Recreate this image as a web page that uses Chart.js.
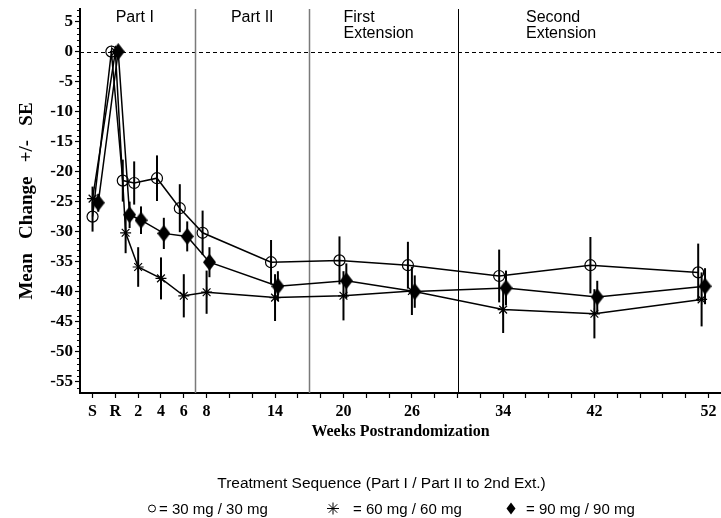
<!DOCTYPE html>
<html>
<head>
<meta charset="utf-8">
<title>Mean Change +/- SE by Week</title>
<script src="https://cdn.jsdelivr.net/npm/chart.js@4/dist/chart.umd.min.js"></script>
<style>
  html, body { margin: 0; padding: 0; background: #fff; }
  #wrap { width: 721px; height: 518px; }
</style>
</head>
<body>
<div id="wrap"><canvas id="chart" width="721" height="518"></canvas></div>
<script>
// -----------------------------------------------------------------
// Datos (semanas post-randomizacion)
// S = screening, R = randomizacion
// -----------------------------------------------------------------
const xTickWeeks = [-2, 0, 2, 4, 6, 8, 14, 20, 26, 34, 42, 52];
const xTickText = ['S', 'R', '2', '4', '6', '8', '14', '20', '26', '34', '42', '52'];
const yTicks = [-55, -50, -45, -40, -35, -30, -25, -20, -15, -10, -5, 0, 5];

// 30 mg / 30 mg (circulo abierto)
const weeks30 = [-2, -0.35, 0.65, 1.65, 3.65, 5.65, 7.65, 13.65, 19.65, 25.65, 33.65, 41.65, 51.1];
const mean30 = [-27.5, 0, -21.5, -21.9, -21.1, -26.1, -30.2, -35.1, -34.8, -35.6, -37.4, -35.6, -36.8];
const se30 = [2.5, 0, 3.5, 3.6, 3.8, 4.0, 3.7, 3.7, 4.0, 3.9, 4.4, 4.7, 4.8];

// 60 mg / 60 mg (asterisco)
const weeks60 = [-2, 0, 0.9, 2, 4, 6, 8, 14, 20, 26, 34, 42, 51.4];
const mean60 = [-24.5, 0, -30.2, -35.9, -37.8, -40.7, -40.1, -41.0, -40.7, -39.9, -43.0, -43.7, -41.3];
const se60 = [2.0, 0, 3.4, 3.3, 3.5, 3.6, 3.6, 3.9, 4.1, 4.0, 3.9, 4.1, 4.5];

// 90 mg / 90 mg (rombo negro)
const weeks90 = [-1.5, 0.25, 1.25, 2.25, 4.25, 6.3, 8.25, 14.25, 20.25, 26.25, 34.25, 42.25, 51.7];
const mean90 = [-25.2, 0, -27.2, -28.1, -30.3, -30.8, -35.1, -39.1, -38.2, -40.0, -39.4, -40.9, -39.1];
const se90 = [1.5, 0, 2.2, 2.3, 2.6, 2.5, 2.5, 2.5, 2.9, 2.7, 2.9, 2.7, 3.0];

// Cortes entre fases del estudio
const phaseBreaks = [7, 17, 30];
const phaseLabels = [['Part I'], ['Part II'], ['First', 'Extension'], ['Second', 'Extension']];

const legendTitle = 'Treatment Sequence (Part I / Part II to 2nd Ext.)';
const seriesNames = ['= 30 mg / 30 mg', '= 60 mg / 60 mg', '= 90 mg / 90 mg'];

// -----------------------------------------------------------------

function toPoints(weeks, means, ses) {
    return weeks.map((w, i) => ({ x: w, y: means[i], se: ses[i] }));
}

// rombo alto (mas alto que ancho), como en la figura original
function diamondCanvas(w, h) {
    const c = document.createElement('canvas');
    c.width = w;
    c.height = h;
    const g = c.getContext('2d');
    g.fillStyle = '#000';
    g.beginPath();
    g.moveTo(w / 2, 0);
    g.lineTo(w, h / 2);
    g.lineTo(w / 2, h);
    g.lineTo(0, h / 2);
    g.closePath();
    g.fill();
    return c;
}

const SERIF = "'Liberation Serif', 'Times New Roman', serif";
const SANS = "'Liberation Sans', Arial, sans-serif";

const decorations = {
    id: 'decorations',
    beforeDatasetsDraw(chart) {
        const { ctx, chartArea: a, scales: { x, y } } = chart;
        ctx.save();

        // ticks menores del eje y (cada unidad)
        ctx.strokeStyle = '#000';
        ctx.lineWidth = 1;
        for (let v = Math.ceil(y.min); v <= Math.floor(y.max); v++) {
            if (v % 5 === 0) continue;
            const py = Math.round(y.getPixelForValue(v)) + 0.5;
            ctx.beginPath();
            ctx.moveTo(a.left - 3, py);
            ctx.lineTo(a.left, py);
            ctx.stroke();
        }

        // linea de referencia en cero
        const y0 = Math.round(y.getPixelForValue(0)) + 0.5;
        ctx.setLineDash([4, 3]);
        ctx.beginPath();
        ctx.moveTo(a.left, y0);
        ctx.lineTo(a.right, y0);
        ctx.stroke();
        ctx.setLineDash([]);

        // separadores de fases
        phaseBreaks.forEach((w, i) => {
            const px = Math.round(x.getPixelForValue(w)) + 0.5;
            ctx.strokeStyle = i < 2 ? '#7a7a7a' : '#000';
            ctx.lineWidth = i < 2 ? 1.5 : 1;
            ctx.beginPath();
            ctx.moveTo(px, a.top);
            ctx.lineTo(px, a.bottom);
            ctx.stroke();
        });

        // etiquetas de fases
        ctx.fillStyle = '#000';
        ctx.font = '16px ' + SANS;
        ctx.textBaseline = 'alphabetic';
        const labelAt = [1.7, 12, 20, 36];
        const labelAlign = ['center', 'center', 'left', 'left'];
        phaseLabels.forEach((lines, i) => {
            ctx.textAlign = labelAlign[i];
            const px = x.getPixelForValue(labelAt[i]);
            lines.forEach((t, k) => ctx.fillText(t, px, a.top + 13 + k * 15.5));
        });

        // barras de error +/- SE
        ctx.strokeStyle = '#000';
        ctx.lineWidth = 2;
        chart.data.datasets.forEach((ds, i) => {
            const meta = chart.getDatasetMeta(i);
            meta.data.forEach((pt, j) => {
                const d = ds.data[j];
                if (!d.se) return;
                ctx.beginPath();
                ctx.moveTo(pt.x, y.getPixelForValue(d.y + d.se));
                ctx.lineTo(pt.x, y.getPixelForValue(d.y - d.se));
                ctx.stroke();
            });
        });

        ctx.restore();
    },
    afterDraw(chart) {
        const { ctx } = chart;
        ctx.save();
        ctx.fillStyle = '#000';
        ctx.strokeStyle = '#000';
        ctx.textBaseline = 'alphabetic';

        // titulo de la leyenda
        ctx.font = '15.5px ' + SANS;
        ctx.textAlign = 'center';
        ctx.fillText(legendTitle, 381.5, 488);

        // items
        ctx.font = '15px ' + SANS;
        ctx.textAlign = 'left';
        const symX = [152, 333, 511];
        const textX = [159, 353, 526];
        const symY = 508.5;

        // circulo
        ctx.lineWidth = 1;
        ctx.beginPath();
        ctx.arc(symX[0], symY, 3.5, 0, Math.PI * 2);
        ctx.stroke();

        // asterisco
        ctx.beginPath();
        for (let k = 0; k < 4; k++) {
            const ang = k * Math.PI / 4;
            ctx.moveTo(symX[1] - 6 * Math.cos(ang), symY - 6 * Math.sin(ang));
            ctx.lineTo(symX[1] + 6 * Math.cos(ang), symY + 6 * Math.sin(ang));
        }
        ctx.stroke();

        // rombo
        ctx.beginPath();
        ctx.moveTo(symX[2], symY - 6);
        ctx.lineTo(symX[2] + 4.5, symY);
        ctx.lineTo(symX[2], symY + 6);
        ctx.lineTo(symX[2] - 4.5, symY);
        ctx.closePath();
        ctx.fill();

        seriesNames.forEach((t, i) => ctx.fillText(t, textX[i], 514));
        ctx.restore();
    }
};

const ctx = document.getElementById('chart').getContext('2d');

new Chart(ctx, {
    type: 'line',
    data: {
        datasets: [
            {
                label: seriesNames[0],
                data: toPoints(weeks30, mean30, se30),
                borderColor: '#000',
                borderWidth: 1.5,
                pointStyle: 'circle',
                pointRadius: 5.5,
                pointBorderWidth: 1.2,
                pointBorderColor: '#000',
                pointBackgroundColor: 'rgba(0,0,0,0)',
                tension: 0,
            },
            {
                label: seriesNames[1],
                data: toPoints(weeks60, mean60, se60),
                borderColor: '#000',
                borderWidth: 1.5,
                pointStyle: 'star',
                pointRadius: 5.5,
                pointBorderWidth: 1.2,
                pointBorderColor: '#000',
                pointBackgroundColor: '#000',
                tension: 0,
            },
            {
                label: seriesNames[2],
                data: toPoints(weeks90, mean90, se90),
                borderColor: '#000',
                borderWidth: 1.5,
                pointStyle: diamondCanvas(13, 17),
                pointRadius: 7,
                pointBorderColor: '#000',
                pointBackgroundColor: '#000',
                tension: 0,
            },
        ]
    },
    options: {
        responsive: false,
        animation: false,
        layout: {
            autoPadding: false,
            padding: { top: 9, right: 0, bottom: 75, left: 0 },
        },
        plugins: {
            legend: { display: false },
            tooltip: { enabled: false },
        },
        scales: {
            x: {
                type: 'linear',
                min: -3.1,
                max: 53.1,
                afterBuildTicks: (scale) => {
                    const t = [];
                    for (let w = -2; w <= 52; w += 2) t.push({ value: w });
                    scale.ticks = t;
                },
                afterFit: (scale) => {
                    scale.height = 50;
                    scale.paddingLeft = 0;
                    scale.paddingRight = 0;
                },
                ticks: {
                    autoSkip: false,
                    maxRotation: 0,
                    padding: 4,
                    color: '#000',
                    font: { family: SERIF, size: 16, weight: 'bold' },
                    callback: (v) => {
                        const i = xTickWeeks.indexOf(v);
                        return i >= 0 ? xTickText[i] : '';
                    },
                },
                grid: {
                    drawOnChartArea: false,
                    drawTicks: true,
                    tickLength: 5,
                    tickColor: '#000',
                    tickWidth: 1.2,
                },
                border: { display: true, color: '#000', width: 2 },
                title: {
                    display: true,
                    text: 'Weeks Postrandomization',
                    color: '#000',
                    font: { family: SERIF, size: 16, weight: 'bold' },
                    padding: { top: 0, bottom: 2 },
                },
            },
            y: {
                type: 'linear',
                min: -56.9,
                max: 7.1,
                afterBuildTicks: (scale) => {
                    scale.ticks = yTicks.map(v => ({ value: v }));
                },
                afterFit: (scale) => {
                    scale.width = 80;
                    scale.paddingTop = 0;
                    scale.paddingBottom = 0;
                },
                ticks: {
                    padding: 2,
                    color: '#000',
                    font: { family: SERIF, size: 17, weight: 'bold' },
                },
                grid: {
                    drawOnChartArea: false,
                    drawTicks: true,
                    tickLength: 5,
                    tickColor: '#000',
                    tickWidth: 1.2,
                },
                border: { display: true, color: '#000', width: 2 },
                title: {
                    display: true,
                    text: 'Mean   Change   +/-   SE',
                    color: '#000',
                    font: { family: SERIF, size: 19, weight: 'bold' },
                    padding: { top: 16, bottom: 0 },
                },
            },
        },
    },
    plugins: [decorations],
});
</script>
</body>
</html>
